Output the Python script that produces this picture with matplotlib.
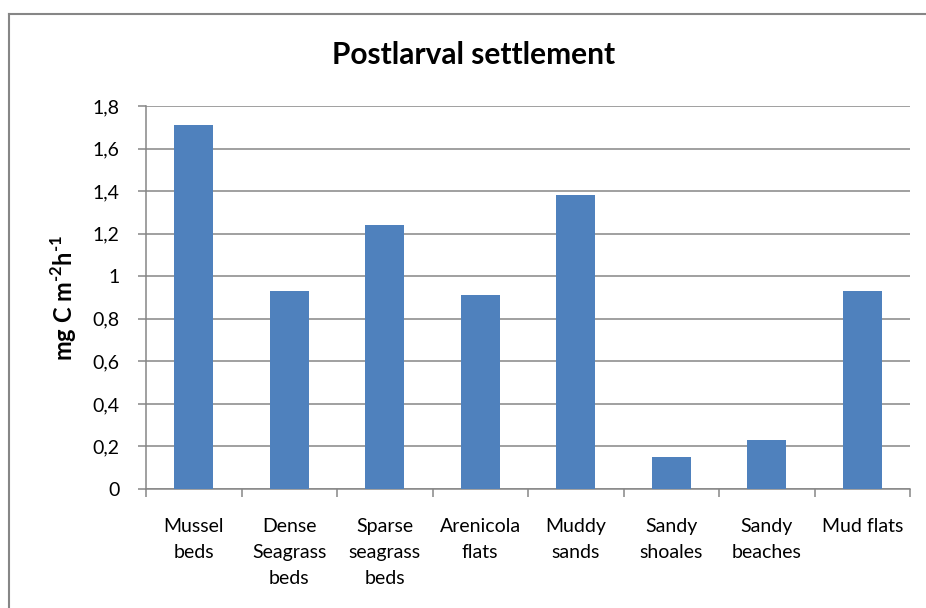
import numpy as np
import matplotlib
matplotlib.use('Agg')
import matplotlib.pyplot as plt
from matplotlib.lines import Line2D

categories = ['Mussel\nbeds', 'Dense\nSeagrass\nbeds', 'Sparse\nseagrass\nbeds', 'Arenicola\nflats',
              'Muddy\nsands', 'Sandy\nshoales', 'Sandy\nbeaches', 'Mud flats']
values = [1.71, 0.93, 1.24, 0.91, 1.38, 0.15, 0.23, 0.93]
yticks = [0, 0.2, 0.4, 0.6, 0.8, 1, 1.2, 1.4, 1.6, 1.8]
ytick_labels = ['0', '0,2', '0,4', '0,6', '0,8', '1', '1,2', '1,4', '1,6', '1,8']

plt.rcParams['font.family'] = ['Lato', 'DejaVu Sans']
plt.rcParams['mathtext.fontset'] = 'custom'
plt.rcParams['mathtext.rm'] = 'Lato'
plt.rcParams['mathtext.bf'] = 'Lato:bold'

grey = '#868686'

fig = plt.figure(figsize=(9.26, 6.08), dpi=100)
ax = fig.add_axes([146 / 926, 1 - 489 / 608, 764 / 926, 383 / 608])

x = np.arange(len(values))
ax.bar(x, values, width=0.41, color='#4f81bd', zorder=3)

ax.set_xlim(-0.5, len(values) - 0.5)
ax.set_ylim(0, 1.8)
ax.set_yticks(yticks)
ax.set_yticklabels(ytick_labels, fontsize=14)
ax.yaxis.grid(True, color=grey, linewidth=1.1, zorder=0)

ax.set_xticks(x)
ax.set_xticklabels(categories, fontsize=14, linespacing=1.65)
ax.set_xticks(np.arange(len(values) + 1) - 0.5, minor=True)
ax.tick_params(axis='x', which='major', length=0, pad=21)
ax.tick_params(axis='x', which='minor', length=6, color=grey, width=1.1)
ax.tick_params(axis='y', length=6, color=grey, width=1.1, pad=13)

for side in ['top', 'right']:
    ax.spines[side].set_visible(False)
for side in ['left', 'bottom']:
    ax.spines[side].set_color(grey)
    ax.spines[side].set_linewidth(1.1)

ax.set_ylabel('mg C m$^{\\mathbf{\u20102}}$h$^{\\mathbf{\u20101}}$', fontsize=17,
              fontweight='bold', labelpad=10)
fig.text(474 / 926, 1 - 55 / 608, 'Postlarval settlement', fontsize=21.5, fontweight='bold',
         ha='center', va='center')

# outer chart border (left and top visible)
fig.add_artist(Line2D([9 / 926, 9 / 926], [0, 1 - 14 / 608], transform=fig.transFigure,
                      color=grey, linewidth=1.5))
fig.add_artist(Line2D([9 / 926, 1], [1 - 14 / 608, 1 - 14 / 608], transform=fig.transFigure,
                      color=grey, linewidth=1.5))

fig.savefig('out.png', dpi=100)
